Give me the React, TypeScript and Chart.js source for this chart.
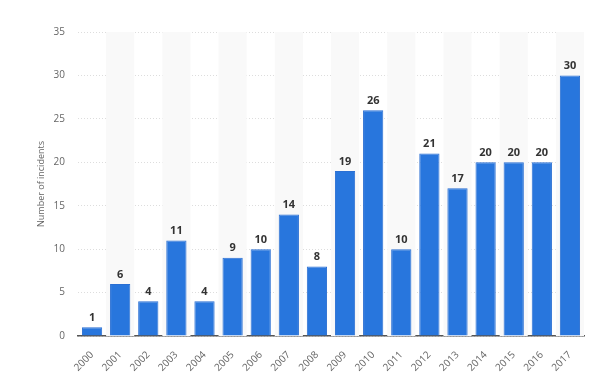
import React, { useEffect, useRef } from "react";
import { Chart, registerables } from "chart.js";

Chart.register(...registerables);

const categories = ["2000","2001","2002","2003","2004","2005","2006","2007","2008","2009","2010","2011","2012","2013","2014","2015","2016","2017"];
const incidents = [1, 6, 4, 11, 4, 9, 10, 14, 8, 19, 26, 10, 21, 17, 20, 20, 20, 30];
const yTicks = [0, 5, 10, 15, 20, 25, 30, 35];

const bandPlugin = {
  id: "bands",
  beforeDatasetsDraw(chart: any) {
    const { ctx, chartArea, scales } = chart;
    const x = scales.x;
    const w = (chartArea.right - chartArea.left) / categories.length;
    ctx.save();
    ctx.fillStyle = "#f9f9f9";
    categories.forEach((_, i) => {
      if (i % 2 === 1) {
        const c = x.getPixelForValue(i);
        ctx.fillRect(c - w / 2, chartArea.top, w, chartArea.bottom - chartArea.top);
      }
    });
    ctx.restore();
  },
};

const labelPlugin = {
  id: "valueLabels",
  afterDatasetsDraw(chart: any) {
    const { ctx } = chart;
    const meta = chart.getDatasetMeta(0);
    ctx.save();
    ctx.font = "bold 11px 'Open Sans', sans-serif";
    ctx.fillStyle = "#333333";
    ctx.textAlign = "center";
    ctx.textBaseline = "bottom";
    meta.data.forEach((bar: any, i: number) => {
      ctx.fillText(String(incidents[i]), bar.x, bar.y - 4);
    });
    ctx.restore();
  },
};

export default function App() {
  const ref = useRef<HTMLCanvasElement>(null);
  useEffect(() => {
    if (!ref.current) return;
    const chart = new Chart(ref.current, {
      type: "bar",
      data: {
        labels: categories,
        datasets: [
          {
            data: incidents,
            backgroundColor: "#2876dd",
            borderColor: "#2a6fd3",
            borderWidth: 1,
            categoryPercentage: 0.72,
            barPercentage: 1,
          },
        ],
      },
      options: {
        animation: false,
        responsive: false,
        maintainAspectRatio: false,
        layout: { padding: { left: 36, right: 16, top: 32, bottom: 0 } },
        plugins: { legend: { display: false }, tooltip: { enabled: false } },
        scales: {
          x: {
            grid: { display: false },
            border: { display: true, color: "#555555", width: 1.5 },
            ticks: {
              color: "#666666",
              font: { family: "'Open Sans', sans-serif", size: 10 },
              maxRotation: 45,
              minRotation: 45,
              padding: 5,
            },
            afterFit(scale: any) {
              scale.height = 46;
            },
          },
          y: {
            min: 0,
            max: 35,
            afterBuildTicks(scale: any) {
              scale.ticks = yTicks.map((v) => ({ value: v }));
            },
            grid: { color: "#dddddd", drawTicks: false, lineWidth: 1 },
            border: { display: false, dash: [1, 2] },
            ticks: {
              color: "#666666",
              font: { family: "'Open Sans', sans-serif", size: 10 },
              padding: 13,
            },
            title: {
              display: true,
              text: "Number of incidents",
              color: "#666666",
              font: { family: "'Open Sans', sans-serif", size: 9 },
              padding: { top: 0, bottom: 0 },
            },
            afterFit(scale: any) {
              scale.width = 42;
            },
          },
        },
      },
      plugins: [bandPlugin, labelPlugin],
    });
    return () => chart.destroy();
  }, []);
  return (
    <div style={{ position: "fixed", left: 0, top: 0, width: 600, height: 382, background: "#fff" }}>
      <canvas ref={ref} width={600} height={382} style={{ width: 600, height: 382 }} />
    </div>
  );
}
